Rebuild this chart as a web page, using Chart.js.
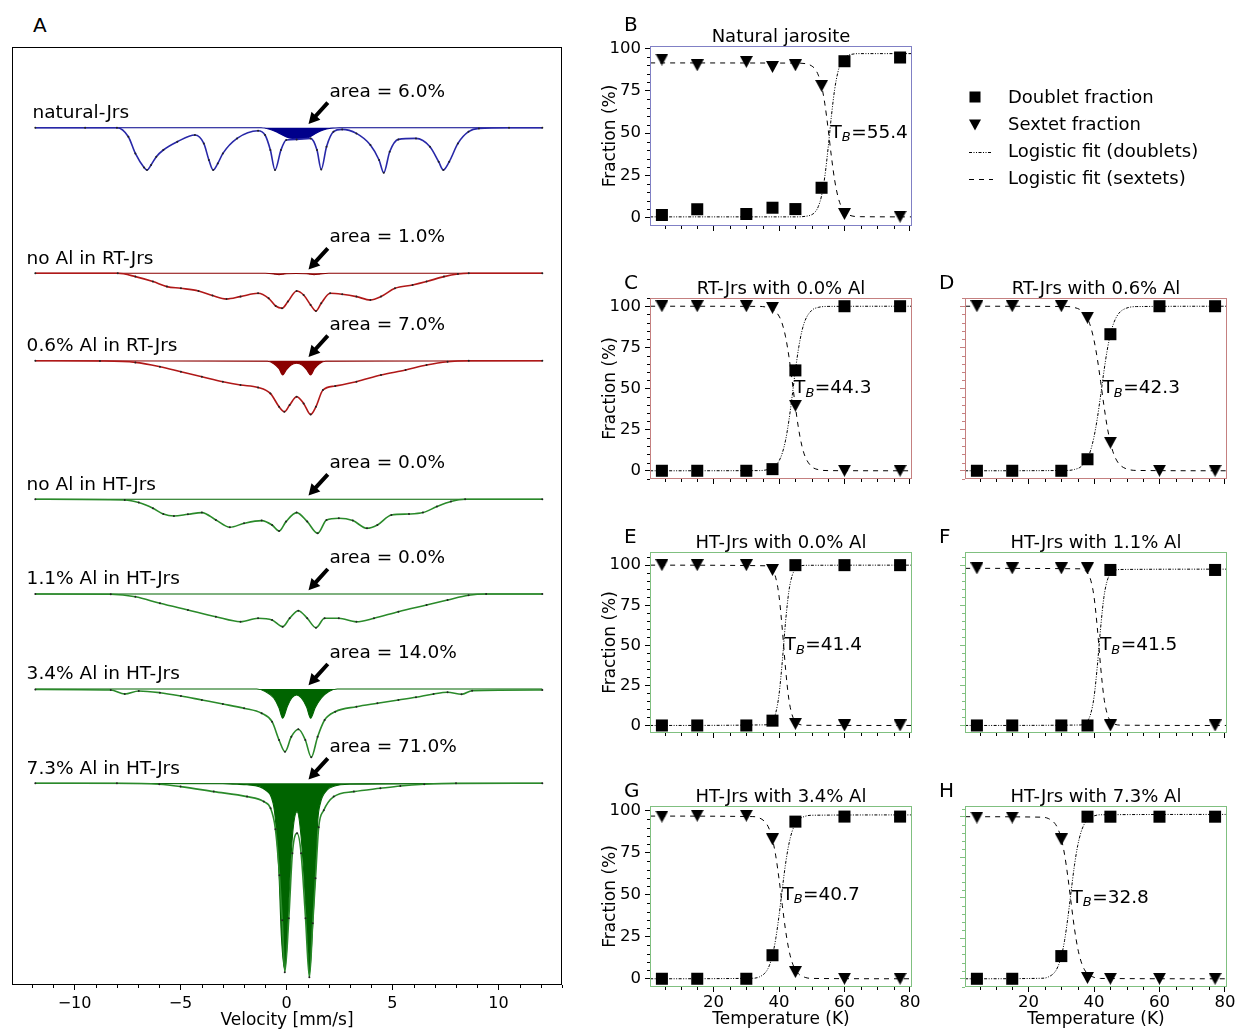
<!DOCTYPE html>
<html><head><meta charset="utf-8">
<script src="https://cdn.jsdelivr.net/npm/chart.js@4.4.1/dist/chart.umd.min.js"></script>
<style>
html,body{margin:0;padding:0;background:#fff;}
body{width:1235px;height:1031px;overflow:hidden;position:relative;font-family:"DejaVu Sans",sans-serif;color:#000;}
canvas{position:absolute;}
.t{position:absolute;white-space:nowrap;line-height:1;transform:translate(-50%,-50%);}
.l{position:absolute;white-space:nowrap;line-height:1;transform:translate(0,-50%);}
</style></head><body>
<script>
// ================= DATA: panel A (Mössbauer spectra, depth below each baseline, arb. units) =================
const velocityLimits = [-12.95, 13.0];
const velocityTicks = [-10, -5, 0, 5, 10];
const spectrumLabels = ['natural-Jrs','no Al in RT-Jrs','0.6% Al in RT-Jrs','no Al in HT-Jrs','1.1% Al in HT-Jrs','3.4% Al in HT-Jrs','7.3% Al in HT-Jrs'];
const doubletAreaPct = [6.0, 1.0, 7.0, 0.0, 0.0, 14.0, 71.0];
const stackOffsets = [-8.07, -22.63, -31.37, -45.23, -54.7, -64.2, -73.63];

const natV   = [-11.85,-9.5,-8.0,-7.46,-7.13,-6.72,-6.58,-6.39,-6.14,-5.81,-5.15,-4.32,-3.9,-3.66,-3.46,-3.24,-3.0,-2.33,-1.34,-1.01,-0.76,-0.54,-0.26,-0.01,0.48,1.14,1.44,1.64,1.89,2.22,2.63,3.3,3.96,4.37,4.59,4.87,5.28,6.11,6.77,7.18,7.4,7.68,8.09,8.59,9.08,10.5,12.07];
const natFit = [0,0,0,0.9,2.57,3.97,4.23,3.73,2.9,2.23,1.4,0.73,1.57,3.23,4.23,3.57,2.57,1.07,0.3,0.73,2.23,4.23,2.23,1.23,1.17,1.07,2.23,4.17,1.9,0.4,0.17,0.57,1.73,3.23,4.5,2.4,1.17,1.07,1.9,3.4,4.23,3.4,1.57,0.4,0.07,0,0];
const natDbV = [-11.85,-1.2,-0.8,-0.4,0.0,0.3,0.5,0.8,1.1,1.4,1.7,2.1,2.5,12.07];
const natDb  = [0,0,0.15,0.5,0.92,1.08,1.12,1.08,0.92,0.55,0.25,0.05,0,0];

const rt0V   = [-11.85,-7.96,-7.13,-6.3,-5.64,-4.98,-4.15,-3.49,-2.83,-2.17,-1.34,-0.84,-0.51,-0.21,0.07,0.48,0.81,1.14,1.39,1.64,2.06,2.63,3.3,3.96,4.46,5.12,5.95,6.61,7.43,8.09,8.6,12.07];
const rt0Fit = [0,0,0.33,0.83,1.33,1.5,1.77,2.23,2.57,2.33,2.0,2.5,3.27,3.5,2.83,1.77,2.17,3.17,3.77,3.0,2.0,2.1,2.33,2.67,2.33,1.5,1.17,0.83,0.33,0.07,0,0];
const rt0DbV = [-11.85,-1.0,-0.6,-0.35,-0.1,0.45,1.05,1.3,1.6,2.0,12.07];
const rt0Db  = [0,0,0.06,0.15,0.06,0.02,0.06,0.15,0.06,0,0];

const rt6V   = [-11.85,-8.8,-7.13,-5.97,-4.98,-3.99,-3.0,-2.17,-1.34,-0.76,-0.35,-0.1,0.15,0.48,0.81,1.14,1.39,1.72,2.3,3.3,4.46,5.62,6.61,7.6,8.6,12.07];
const rt6Fit = [0,0.03,0.17,0.6,1.1,1.6,2.1,2.43,2.67,3.27,4.6,5.1,4.43,3.6,4.27,5.37,4.6,2.93,2.53,2.1,1.43,0.93,0.43,0.1,0,0];
const rt6DbV = [-11.85,-0.9,-0.6,-0.35,-0.18,0.0,0.2,0.48,0.75,0.95,1.14,1.32,1.55,1.85,12.07];
const rt6Db  = [0,0.05,0.3,0.8,1.43,0.9,0.45,0.25,0.45,0.9,1.43,0.8,0.3,0.05,0];

const ht0V   = [-11.85,-7.63,-6.97,-6.3,-5.81,-5.31,-4.65,-3.99,-3.33,-2.67,-2.0,-1.17,-0.68,-0.35,-0.02,0.48,0.98,1.47,1.89,2.47,3.13,3.8,4.29,4.95,5.78,6.44,7.1,7.76,8.43,12.07];
const ht0Fit = [0,0.07,0.33,0.9,1.47,1.67,1.5,1.33,2.07,2.8,2.4,2.13,2.57,3.17,2.23,1.33,2.23,3.4,2.07,1.9,2.13,2.9,2.57,1.57,1.47,1.33,0.73,0.23,0,0];
const ht0DbV = [-11.85,12.07];
const ht0Db  = [0,0];

const ht1V   = [-11.85,-8.29,-7.13,-5.97,-4.65,-3.33,-2.17,-1.34,-0.68,-0.18,0.15,0.56,0.98,1.39,1.8,2.47,3.3,4.13,5.28,6.61,7.6,8.59,9.42,12.07];
const ht1Fit = [0,0.03,0.27,0.93,1.6,2.27,2.77,2.43,2.6,3.27,2.43,1.67,2.43,3.37,2.43,2.43,2.77,2.43,1.77,1.1,0.6,0.13,0,0];
const ht1DbV = [-11.85,12.07];
const ht1Db  = [0,0];

const ht3V   = [-11.85,-8.29,-7.63,-6.97,-5.97,-4.98,-3.99,-3.0,-2.0,-1.17,-0.68,-0.35,-0.07,0.23,0.56,0.89,1.17,1.47,1.8,2.3,3.3,4.29,5.28,6.11,6.94,7.6,8.26,8.76,12.07];
const ht3Fit = [0.05,0.1,0.5,0.2,0.37,0.7,1.1,1.5,1.93,2.43,3.27,5.1,6.27,4.77,4.03,5.1,6.83,4.77,3.1,2.27,1.77,1.43,1.1,0.83,0.5,0.33,0.53,0.17,0.1];
const ht3DbV = [-11.85,-1.4,-1.0,-0.6,-0.35,-0.18,0.05,0.25,0.48,0.7,0.95,1.14,1.35,1.65,2.0,2.4,12.07];
const ht3Db  = [0,0,0.25,0.9,1.9,2.93,1.7,0.9,0.6,0.9,1.8,2.93,1.9,0.9,0.25,0,0];

const ht7V   = [-11.85,-8.0,-6.0,-5.0,-3.43,-1.86,-1.07,-0.75,-0.52,-0.33,-0.2,-0.08,0.11,0.28,0.5,0.69,0.9,1.08,1.24,1.37,1.52,1.76,2.23,3.18,4.43,5.37,6.5,8.0,12.07];
const ht7Fit = [0,0,0.1,0.33,0.83,1.33,1.83,2.5,4.6,9.2,13.7,18.9,13.5,7.0,5.0,7.0,13.5,19.4,14.0,9.5,4.4,2.7,1.33,0.83,0.5,0.27,0.1,0,0];
const ht7DbV = [-11.85,-3.0,-2.33,-1.86,-0.99,-0.63,-0.52,-0.36,-0.24,-0.08,0.0,0.11,0.28,0.5,0.69,0.9,1.02,1.08,1.21,1.37,1.48,1.6,1.92,2.23,3.0,12.07];
const ht7Db  = [0,0.05,0.1,0.15,0.67,2.0,3.67,8.67,15.3,18.6,17.0,12.0,5.33,2.83,5.33,12.0,17.0,19.1,15.3,8.67,3.67,2.0,0.67,0.3,0.1,0];

// ================= DATA: panels B-H (fractions vs temperature) =================
const tempLimits = [0.56, 80.64];
const tempTicks = [20, 40, 60, 80];
const fractionTicks = [0, 25, 50, 75, 100];
const tempK    = [4.2, 15, 30, 38, 45, 60, 77];
const tempNatK = [4.2, 15, 30, 38, 45, 53, 60, 77];
const panelTitles = ['Natural jarosite','RT-Jrs with 0.0% Al','RT-Jrs with 0.6% Al','HT-Jrs with 0.0% Al','HT-Jrs with 1.1% Al','HT-Jrs with 3.4% Al','HT-Jrs with 7.3% Al'];
const panelLetters = ['B','C','D','E','F','G','H'];
const blockingT = [55.4, 44.3, 42.3, 41.4, 41.5, 40.7, 32.8];

const natDoublet = [1.6, 5.0, 2.2, 5.9, 5.1, 17.7, 92.5, 94.7];
const natSextet  = [93.5, 90.1, 92.1, 89.1, 90.1, 77.9, 2.2, 0.6];
const rt0Doublet = [0, 0, 0, 1, 61, 100, 100];
const rt0Sextet  = [100, 100, 100, 99, 39.5, 0, 0];
const rt6Doublet = [0, 0, 0, 7, 83, 100, 100];
const rt6Sextet  = [100, 100, 100, 93, 17, 0, 0];
const ht0Doublet = [0, 0, 0, 3, 100, 100, 100];
const ht0Sextet  = [100, 100, 100, 97, 1, 0, 0];
const ht1Doublet = [0, 0, 0, 0, 97, null, 97];
const ht1Sextet  = [98, 98, 98, 98, 0, null, 0];
const ht3Doublet = [0, 0, 0, 14, 93.5, 96.5, 96.5];
const ht3Sextet  = [96.5, 97, 97, 83, 4, 0, 0];
const ht7Doublet = [0, 0, 14, 100, 100, 100, 100];
const ht7Sextet  = [99.5, 99.5, 86, 0.5, 0, 0, 0];

// logistic fit curves, sampled from the figure
const natFitT = [0.6,45,48,50,51,52,53,54,55,56,57,58,59,60,62,65,80.6];
const natFitD = [0.5,0.5,0.8,1.8,3.3,6.6,13.0,24.4,41.2,60.0,75.8,86.1,91.8,94.6,96.5,97.0,97.0];
const natFitS = [91.5,91.4,91.1,89.7,87.9,84.3,77.9,67.3,52.6,36.3,22.2,12.5,6.7,3.6,1.2,0.6,0.5];
const rt0FitT = [0.6,34,36,38,40,41,42,43,44,45,46,47,48,50,52,55,80.6];
const rt0FitD = [0,0.1,0.5,1.7,6.0,10.8,18.6,30.3,45.2,61.0,74.8,85.0,91.5,97.5,99.3,99.9,100];
const rt0FitS = [100,99.9,99.5,98.3,94.0,89.2,81.4,69.7,54.8,39.0,25.2,15.0,8.5,2.5,0.7,0.1,0];
const rt6FitT = [0.6,32,34,36,38,39,40,41,42,43,44,45,46,47,48,50,53,80.6];
const rt6FitD = [0,0.2,0.8,2.5,7.5,12.7,20.7,31.8,45.6,60.1,73.0,82.9,89.7,94.0,96.6,98.9,99.8,100];
const rt6FitS = [100,99.8,99.2,97.5,92.5,87.3,79.3,68.2,54.4,39.9,27.0,17.1,10.3,6.0,3.4,1.1,0.2,0];
const ht0FitT = [0.6,36,37,38,39,40,41,42,43,44,45,46,48,80.6];
const ht0FitD = [0,0.4,1.1,3.0,7.9,19.3,40.0,64.8,83.6,93.4,97.5,99.1,99.9,100];
const ht0FitS = [100,99.6,98.9,97.0,92.1,80.7,60.0,35.2,16.4,6.6,2.5,0.9,0.1,0];
const ht1FitT = [0.6,36,37,38,39,40,41,42,43,44,45,46,48,80.6];
const ht1FitD = [0,0.3,1.1,2.8,7.4,17.7,36.9,60.6,79.8,90.1,94.7,96.4,97.3,97.5];
const ht1FitS = [98,97.7,96.9,95.2,90.6,80.2,61.0,37.0,17.8,7.4,2.8,1.1,0.2,0];
const ht3FitT = [0.6,32,34,36,37,38,39,40,41,42,43,44,45,46,48,50,80.6];
const ht3FitD = [0,0.3,1.1,4.1,7.7,14.0,23.9,37.6,53.5,68.5,80.0,87.7,92.1,94.7,96.7,97.3,97.5];
const ht3FitS = [96.8,96.5,95.7,92.7,89.1,82.9,73.1,59.4,43.7,28.8,17.3,9.8,5.3,2.8,0.8,0.2,0];
const ht7FitT = [0.6,24,26,28,29,30,31,32,33,34,35,36,37,38,40,42,80.6];
const ht7FitD = [0,0.3,1.1,4.1,7.7,13.9,23.7,37.7,54.0,69.8,82.1,90.3,95.4,98.2,100.5,101.2,101.4];
const ht7FitS = [100,99.7,98.9,95.9,92.4,86.3,76.6,62.8,46.7,31.2,19.0,10.9,5.9,3.2,0.9,0.2,0];

// ================= LAYOUT / STYLE =================
Chart.defaults.font.family = "'DejaVu Sans', sans-serif";
Chart.defaults.color = '#000';
const FONT = "'DejaVu Sans', sans-serif";

function makeCanvas(left, top, w, h) {
  const c = document.createElement('canvas');
  c.width = w; c.height = h;
  c.style.left = left + 'px'; c.style.top = top + 'px';
  c.style.width = w + 'px'; c.style.height = h + 'px';
  document.body.appendChild(c);
  return c;
}
function addText(cls, x, y, text, size) {
  const d = document.createElement('div');
  d.className = cls; d.textContent = text;
  d.style.left = x + 'px'; d.style.top = y + 'px'; d.style.fontSize = size + 'px';
  document.body.appendChild(d);
}
const pts = (xs, ys) => xs.map((x, i) => ({x, y: ys[i]}));
const stackPts = (xs, ys, off) => xs.map((x, i) => ({x, y: off - ys[i]}));
const fixTicks = vals => (s => { s.ticks = vals.map(v => ({value: v})); });

// ---------- Panel A ----------
const spectra = [
  {v: natV, fit: natFit, dv: natDbV, db: natDb, line: '#2828a8', fill: '#00008b', lx: -11.98},
  {v: rt0V, fit: rt0Fit, dv: rt0DbV, db: rt0Db, line: '#b01818', fill: '#8b0000', lx: -12.26},
  {v: rt6V, fit: rt6Fit, dv: rt6DbV, db: rt6Db, line: '#b01818', fill: '#8b0000', lx: -12.26},
  {v: ht0V, fit: ht0Fit, dv: ht0DbV, db: ht0Db, line: '#2a8a2a', fill: '#006400', lx: -12.26},
  {v: ht1V, fit: ht1Fit, dv: ht1DbV, db: ht1Db, line: '#2a8a2a', fill: '#006400', lx: -12.26},
  {v: ht3V, fit: ht3Fit, dv: ht3DbV, db: ht3Db, line: '#2a8a2a', fill: '#006400', lx: -12.26},
  {v: ht7V, fit: ht7Fit, dv: ht7DbV, db: ht7Db, line: '#2a8a2a', fill: '#006400', lx: -12.26}
];
const aDatasets = [];
spectra.forEach((s, i) => {
  const off = stackOffsets[i];
  aDatasets.push({data: stackPts(s.v, s.fit, off), showLine: false, pointRadius: 1.0, pointBorderWidth: 0,
    pointBackgroundColor: '#222', order: 0});
  aDatasets.push({data: stackPts(s.v, s.fit, off), borderColor: s.line, borderWidth: 1.6, pointRadius: 0,
    cubicInterpolationMode: 'monotone', fill: false, order: 1});
  aDatasets.push({data: stackPts(s.dv, s.db, off), borderColor: s.fill, borderWidth: 1.1, pointRadius: 0,
    backgroundColor: s.fill, cubicInterpolationMode: 'monotone', fill: {value: off}, order: 2});
});

function drawArrow(ctx, x0, y0, x1, y1) {
  const dx = x1 - x0, dy = y1 - y0, L = Math.hypot(dx, dy);
  const ux = dx / L, uy = dy / L, nx = -uy, ny = ux;
  const hl = 11, hw = 6, sw = 2;
  const bx = x1 - ux * hl, by = y1 - uy * hl;
  ctx.beginPath();
  ctx.moveTo(x0 + nx * sw, y0 + ny * sw);
  ctx.lineTo(bx + nx * sw, by + ny * sw);
  ctx.lineTo(bx + nx * hw, by + ny * hw);
  ctx.lineTo(x1, y1);
  ctx.lineTo(bx - nx * hw, by - ny * hw);
  ctx.lineTo(bx - nx * sw, by - ny * sw);
  ctx.lineTo(x0 - nx * sw, y0 - ny * sw);
  ctx.closePath();
  ctx.fill();
}

const stackAnnot = {
  id: 'stackAnnot',
  afterDatasetsDraw(chart) {
    const {ctx, scales: {x, y}} = chart;
    ctx.save();
    ctx.fillStyle = '#000';
    ctx.font = '18.5px ' + FONT;
    ctx.textBaseline = 'middle'; ctx.textAlign = 'left';
    stackOffsets.forEach((off, i) => {
      ctx.fillText(spectrumLabels[i], x.getPixelForValue(spectra[i].lx), y.getPixelForValue(off + 1.45));
      ctx.fillText('area = ' + doubletAreaPct[i].toFixed(1) + '%', x.getPixelForValue(2.03), y.getPixelForValue(off + 3.6));
      drawArrow(ctx, x.getPixelForValue(1.95), y.getPixelForValue(off + 2.5), x.getPixelForValue(1.04), y.getPixelForValue(off + 0.38));
    });
    ctx.restore();
  }
};
const frameA = {
  id: 'frameA',
  afterDraw(chart) {
    const {ctx, chartArea: a, scales: {x}} = chart;
    ctx.save();
    ctx.strokeStyle = '#000'; ctx.lineWidth = 1;
    ctx.beginPath();
    for (let v = Math.ceil(x.min); v <= x.max; v++) {
      if (v % 5 === 0) continue;
      const px = Math.round(x.getPixelForValue(v)) + 0.5;
      ctx.moveTo(px, a.bottom); ctx.lineTo(px, a.bottom + 3);
    }
    ctx.stroke();
    ctx.strokeRect(a.left + 0.5, a.top + 0.5, a.right - a.left - 1, a.bottom - a.top - 1);
    ctx.restore();
  }
};

(function buildA() {
  const cv = makeCanvas(0, 40, 575, 991);
  new Chart(cv, {
    type: 'line',
    data: {datasets: aDatasets},
    options: {
      responsive: false, animation: false, events: [],
      layout: {padding: {left: 12, top: 7, right: 13, bottom: 0}},
      plugins: {legend: {display: false}, tooltip: {enabled: false}},
      scales: {
        x: {type: 'linear', min: velocityLimits[0], max: velocityLimits[1],
          afterBuildTicks: fixTicks(velocityTicks),
          afterFit: s => { s.height = 46; },
          ticks: {font: {size: 16}, padding: 4, maxRotation: 0, autoSkip: false,
            callback: v => (v < 0 ? '\u2212' + Math.abs(v) : String(v))},
          grid: {drawOnChartArea: false, drawTicks: true, tickLength: 5, tickColor: '#000'},
          border: {display: false},
          title: {display: true, text: 'Velocity [mm/s]', font: {size: 17}, padding: {top: 0, bottom: 0}}},
        y: {type: 'linear', display: false, min: -93.8, max: 0}
      }
    },
    plugins: [stackAnnot, frameA]
  });
})();
addText('l', 33, 25, 'A', 20);

// ---------- Panels B-H ----------
function triangleImage(w, h) {
  const c = document.createElement('canvas');
  c.width = w; c.height = h;
  const g = c.getContext('2d');
  g.fillStyle = '#000';
  g.beginPath(); g.moveTo(0, 0); g.lineTo(w, 0); g.lineTo(w / 2, h); g.closePath(); g.fill();
  return c;
}
const triImg = triangleImage(13, 12);
const DASH_D = [3, 1.5, 1, 1.5, 1, 1.5];
const DASH_S = [5, 5];

const framePlugin = {
  id: 'frame',
  afterDraw(chart, args, o) {
    const {ctx, chartArea: a, scales: {x, y}} = chart;
    ctx.save();
    ctx.lineWidth = 1;
    ctx.strokeStyle = '#000';
    ctx.beginPath();
    for (let v = 5; v <= x.max; v += 5) {
      if (v % 20 === 0) continue;
      const px = Math.round(x.getPixelForValue(v)) + 0.5;
      ctx.moveTo(px, a.bottom); ctx.lineTo(px, a.bottom + 3);
    }
    ctx.stroke();
    ctx.strokeStyle = o.yTick;
    ctx.beginPath();
    for (let v = Math.ceil(y.min / 5) * 5; v <= y.max; v += 5) {
      if (v % 25 === 0) continue;
      const py = Math.round(y.getPixelForValue(v)) + 0.5;
      ctx.moveTo(a.left, py); ctx.lineTo(a.left - 3, py);
    }
    ctx.stroke();
    ctx.strokeStyle = o.color;
    ctx.strokeRect(a.left + 0.5, a.top + 0.5, a.right - a.left - 1, a.bottom - a.top - 1);
    const tx = x.getPixelForValue(o.tb) + 1, ty = y.getPixelForValue(50);
    ctx.fillStyle = '#000';
    ctx.textBaseline = 'middle'; ctx.textAlign = 'left';
    ctx.font = '18.5px ' + FONT;
    ctx.fillText('T', tx, ty);
    let cx = tx + ctx.measureText('T').width;
    ctx.font = 'italic 13px ' + FONT;
    ctx.fillText('B', cx, ty + 5);
    cx += ctx.measureText('B').width + 0.5;
    ctx.font = '18.5px ' + FONT;
    ctx.fillText('=' + o.tb.toFixed(1), cx, ty);
    if (o.legend) o.legend(ctx);
    ctx.restore();
  }
};

function legendDrawer(offX, offY) {
  return function (ctx) {
    const X = v => v - offX, Y = v => v - offY;
    ctx.fillStyle = '#000'; ctx.strokeStyle = '#000';
    ctx.fillRect(X(969.5), Y(91.5), 11, 11);
    ctx.beginPath(); ctx.moveTo(X(969), Y(119.5)); ctx.lineTo(X(981), Y(119.5)); ctx.lineTo(X(975), Y(130.5)); ctx.closePath(); ctx.fill();
    ctx.lineWidth = 1;
    ctx.setLineDash(DASH_D);
    ctx.beginPath(); ctx.moveTo(X(969), Y(152.5)); ctx.lineTo(X(992), Y(152.5)); ctx.stroke();
    ctx.setLineDash(DASH_S);
    ctx.beginPath(); ctx.moveTo(X(969), Y(179.5)); ctx.lineTo(X(993), Y(179.5)); ctx.stroke();
    ctx.setLineDash([]);
    ctx.font = '18px ' + FONT; ctx.textBaseline = 'middle'; ctx.textAlign = 'left';
    ctx.fillText('Doublet fraction', X(1008), Y(98));
    ctx.fillText('Sextet fraction', X(1008), Y(125));
    ctx.fillText('Logistic fit (doublets)', X(1008), Y(152));
    ctx.fillText('Logistic fit (sextets)', X(1008), Y(179));
  };
}

const panels = [
  {box: {l: 650, t: 46, w: 262, h: 180}, T: tempNatK, d: natDoublet, s: natSextet, fT: natFitT, fD: natFitD, fS: natFitS, y: [-4.9, 101.5], color: '#8080c5', left: true, bottom: false, legend: true},
  {box: {l: 650, t: 298, w: 262, h: 181}, T: tempK, d: rt0Doublet, s: rt0Sextet, fT: rt0FitT, fD: rt0FitD, fS: rt0FitS, y: [-5, 105], color: '#c58080', left: true, bottom: false},
  {box: {l: 965, t: 298, w: 262, h: 181}, T: tempK, d: rt6Doublet, s: rt6Sextet, fT: rt6FitT, fD: rt6FitD, fS: rt6FitS, y: [-5, 105], color: '#c58080', left: false, bottom: false},
  {box: {l: 650, t: 552, w: 262, h: 181}, T: tempK, d: ht0Doublet, s: ht0Sextet, fT: ht0FitT, fD: ht0FitD, fS: ht0FitS, y: [-4.7, 108.2], color: '#80c080', left: true, bottom: false},
  {box: {l: 965, t: 552, w: 262, h: 181}, T: tempK, d: ht1Doublet, s: ht1Sextet, fT: ht1FitT, fD: ht1FitD, fS: ht1FitS, y: [-4.7, 108.2], color: '#80c080', left: false, bottom: false},
  {box: {l: 650, t: 806, w: 262, h: 181}, T: tempK, d: ht3Doublet, s: ht3Sextet, fT: ht3FitT, fD: ht3FitD, fS: ht3FitS, y: [-4.9, 102.8], color: '#80c080', left: true, bottom: true},
  {box: {l: 965, t: 806, w: 262, h: 181}, T: tempK, d: ht7Doublet, s: ht7Sextet, fT: ht7FitT, fD: ht7FitD, fS: ht7FitS, y: [-5.07, 106.6], color: '#80c080', left: false, bottom: true}
];

panels.forEach((p, i) => {
  const padL = 60, padT = 14, padB = 50;
  const cl = p.box.l - padL, ct = p.box.t - padT;
  const cw = p.legend ? 1235 - cl : p.box.w + padL + 16;
  const padR = cw - padL - p.box.w;
  const ch = p.box.h + padT + padB;
  const cv = makeCanvas(cl, ct, cw, ch);
  new Chart(cv, {
    type: 'line',
    data: {datasets: [
      {label: 'Doublet fraction', data: pts(p.T, p.d), showLine: false, pointStyle: 'rect', pointRadius: 8.5,
        pointBackgroundColor: '#000', pointBorderColor: '#000', pointBorderWidth: 0, clip: false, order: 0},
      {label: 'Sextet fraction', data: pts(p.T, p.s), showLine: false, pointStyle: triImg, pointRadius: 7, clip: false, order: 0},
      {label: 'Logistic fit (doublets)', data: pts(p.fT, p.fD), borderColor: '#000', borderWidth: 1, borderDash: DASH_D,
        pointRadius: 0, cubicInterpolationMode: 'monotone', fill: false, order: 1},
      {label: 'Logistic fit (sextets)', data: pts(p.fT, p.fS), borderColor: '#000', borderWidth: 1, borderDash: DASH_S,
        pointRadius: 0, cubicInterpolationMode: 'monotone', fill: false, order: 1}
    ]},
    options: {
      responsive: false, animation: false, events: [],
      layout: {padding: {left: 0, top: padT, right: padR, bottom: 0}},
      plugins: {legend: {display: false}, tooltip: {enabled: false},
        frame: {color: p.color, yTick: p.left ? '#000' : p.color, tb: blockingT[i],
          legend: p.legend ? legendDrawer(cl, ct) : null}},
      scales: {
        x: {type: 'linear', min: tempLimits[0], max: tempLimits[1],
          afterBuildTicks: fixTicks(tempTicks),
          afterFit: s => { s.height = padB; },
          ticks: {font: {size: 16.5}, padding: 1, maxRotation: 0, autoSkip: false,
            callback: v => (p.bottom ? String(v) : '')},
          grid: {drawOnChartArea: false, drawTicks: true, tickLength: 5, tickColor: '#000'},
          border: {display: false},
          title: {display: p.bottom, text: 'Temperature (K)', font: {size: 17}, padding: {top: 0, bottom: 7}}},
        y: {type: 'linear', min: p.y[0], max: p.y[1],
          afterBuildTicks: fixTicks(fractionTicks),
          afterFit: s => { s.width = padL; },
          ticks: {font: {size: 16.5}, padding: 4, autoSkip: false,
            callback: v => (p.left ? String(v) : '')},
          grid: {drawOnChartArea: false, drawTicks: true, tickLength: 5, tickColor: p.left ? '#000' : p.color},
          border: {display: false},
          title: {display: p.left, text: 'Fraction (%)', font: {size: 17}, padding: {top: 10, bottom: 0}}}
      }
    },
    plugins: [framePlugin]
  });
  const cxm = p.box.l + p.box.w / 2;
  addText('t', cxm, p.box.t - 10.5, panelTitles[i], 18);
  addText('l', p.box.l - 26, i === 0 ? 24 : p.box.t - 16, panelLetters[i], 20);
});
</script>
</body></html>
